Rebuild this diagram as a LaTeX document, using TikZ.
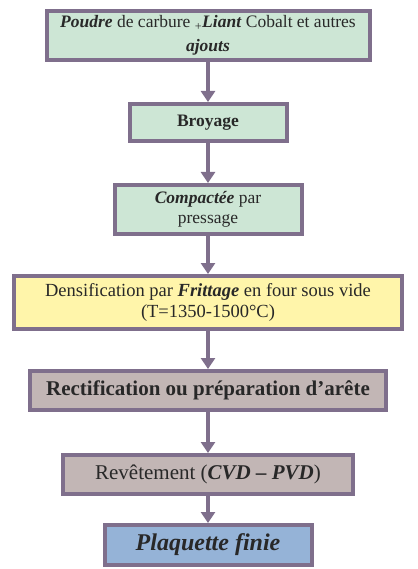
\documentclass[tikz,border=0pt]{standalone}
\usepackage{fontspec}
\setmainfont{Liberation Serif}
\usetikzlibrary{arrows.meta}
\definecolor{bord}{RGB}{127,111,140}
\definecolor{texte}{RGB}{40,40,40}
\definecolor{vert}{RGB}{205,230,213}
\definecolor{jaune}{RGB}{255,245,170}
\definecolor{mauve}{RGB}{194,182,181}
\definecolor{bleu}{RGB}{149,179,215}

\begin{document}
\begin{tikzpicture}[x=1pt, y=-1pt,
        etape/.style={rectangle, draw=bord, line width=4pt, inner sep=2pt, align=center, text=texte},
        fleche/.style={draw=bord, line width=4pt, -{Triangle[width=14pt,length=11pt]}}]
            \useasboundingbox (0,0) rectangle (417,569);

            \node[etape, fill=vert, minimum width=323pt, minimum height=49pt, font=\fontsize{17.5}{24}\selectfont] (poudre) at (208,35.5)
                {\textbf{\textit{Poudre}} de carbure \textsubscript{+}\textbf{\textit{Liant}} Cobalt et autres\\ \textbf{\textit{ajouts}}};
            \node[etape, fill=vert, minimum width=157pt, minimum height=37pt, font=\fontsize{17.5}{21}\selectfont] (broyage) at (208,122.5)
                {\textbf{Broyage}};
            \node[etape, fill=vert, minimum width=187pt, minimum height=49pt, font=\fontsize{17.5}{20}\selectfont] (compact) at (208,209.5)
                {\textbf{\textit{Compactée}} par\\ pressage};
            \node[etape, fill=jaune, minimum width=388pt, minimum height=53pt, font=\fontsize{18.5}{21}\selectfont] (frittage) at (208,302.5)
                {Densification par \textbf{\textit{Frittage}} en four sous vide\\ (T=1350-1500°C)};
            \node[etape, fill=mauve, minimum width=356pt, minimum height=39pt, font=\fontsize{21}{24}\selectfont] (rectif) at (208,390.5)
                {\textbf{Rectification ou préparation d’arête}};
            \node[etape, fill=mauve, minimum width=290pt, minimum height=39pt, font=\fontsize{21}{24}\selectfont] (revet) at (208,474.5)
                {Revêtement (\textbf{\textit{CVD – PVD}})};
            \node[etape, fill=bleu, minimum width=207pt, minimum height=40pt, font=\fontsize{24}{27}\selectfont] (plaquette) at (208,545)
                {\textbf{\textit{Plaquette finie}}};

            \draw[fleche] (poudre) -- (broyage);
            \draw[fleche] (broyage) -- (compact);
            \draw[fleche] (compact) -- (frittage);
            \draw[fleche] (frittage) -- (rectif);
            \draw[fleche] (rectif) -- (revet);
            \draw[fleche] (revet) -- (plaquette);
        \end{tikzpicture}
\end{document}
